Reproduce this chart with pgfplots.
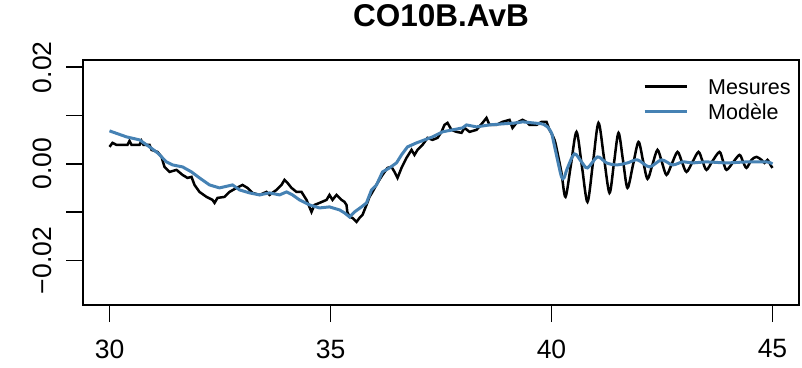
\documentclass[border=0pt]{standalone}
\usepackage{fontspec}
\setmainfont{Liberation Sans}
\usepackage{pgfplots}
\pgfplotsset{compat=1.18}
\definecolor{steel}{HTML}{4682B4}
\begin{document}
\begin{tikzpicture}
\begin{axis}[
  scale only axis, width=716pt, height=245pt,
  xmin=29.4, xmax=45.6, ymin=-0.0292, ymax=0.0215,
  axis line style={line width=1.7pt},
  xtick={30,35,40,45}, ytick={-0.02,-0.01,0,0.01,0.02},
  xticklabels={30,35,40,45}, yticklabels={−0.02,{},0.00,{},0.02},
  scaled ticks=false,
  xtick pos=lower, ytick pos=left,
  tick align=outside, major tick length=17pt,
  tick style={line width=1.7pt, black},
  ticklabel style={font=\fontsize{26.5}{30}\selectfont},
  xticklabel style={yshift=-14pt},
  yticklabel style={rotate=90, anchor=south},
  yticklabel shift=11pt,
  title={CO10B.AvB},
  title style={font=\fontsize{31.5}{36}\selectfont\bfseries, at={(0.5,1)}, anchor=base, yshift=27pt},
  legend style={draw=none, fill=none, at={(0.7821,0.925)}, anchor=north west, inner sep=0pt,
    font=\fontsize{21.5}{25.7}\selectfont,
    nodes={inner sep=0pt, text height=15.5pt, text depth=0pt},
    row sep=10pt,
    /tikz/every odd column/.append style={column sep=20pt}},
  legend cell align=left,
  legend image code/.code={\draw[#1] (0pt,0pt) -- (42pt,0pt);},
]
\addplot[black, line width=2.5pt] coordinates {
(30.000,0.00352) (30.068,0.00435) (30.158,0.00393) (30.407,0.00393) (30.452,0.00476) (30.498,0.00393)
(30.679,0.00393) (30.724,0.00476) (30.769,0.00393) (30.905,0.00393) (30.950,0.00290) (31.086,0.00248)
(31.176,0.00145) (31.244,-0.00062) (31.357,-0.00166) (31.516,-0.00124) (31.652,-0.00228) (31.765,-0.00290)
(31.855,-0.00269) (31.923,-0.00435) (32.036,-0.00580) (32.195,-0.00683) (32.330,-0.00745) (32.376,-0.00807)
(32.443,-0.00704) (32.602,-0.00683) (32.715,-0.00580) (32.873,-0.00497) (33.009,-0.00435) (33.122,-0.00497)
(33.235,-0.00600) (33.394,-0.00642) (33.552,-0.00580) (33.620,-0.00642) (33.778,-0.00538) (33.891,-0.00435)
(33.959,-0.00331) (34.027,-0.00393) (34.118,-0.00497) (34.231,-0.00580) (34.344,-0.00580) (34.457,-0.00745)
(34.570,-0.00994) (34.638,-0.00849) (34.751,-0.00807) (34.910,-0.00745) (34.977,-0.00642) (35.045,-0.00745)
(35.136,-0.00642) (35.249,-0.00745) (35.317,-0.00787) (35.362,-0.00849) (35.380,-0.00994) (35.430,-0.01097)
(35.498,-0.01118) (35.588,-0.01201) (35.656,-0.01118) (35.724,-0.01056) (35.814,-0.00849) (35.882,-0.00683)
(35.950,-0.00580) (36.063,-0.00393) (36.176,-0.00228) (36.290,-0.00083) (36.380,-0.00062) (36.448,-0.00166)
(36.516,-0.00290) (36.606,-0.00083) (36.719,0.00124) (36.833,0.00290) (36.900,0.00186) (36.968,0.00290)
(37.081,0.00393) (37.195,0.00538) (37.308,0.00497) (37.421,0.00538) (37.511,0.00663) (37.579,0.00807)
(37.647,0.00849) (37.738,0.00704) (37.851,0.00663) (37.964,0.00642) (38.032,0.00745) (38.145,0.00663)
(38.303,0.00704) (38.439,0.00849) (38.529,0.00952) (38.597,0.00807) (38.756,0.00807) (38.891,0.00870)
(39.050,0.00911) (39.118,0.00745) (39.208,0.00849) (39.344,0.00911) (39.434,0.00870) (39.502,0.00807)
(39.661,0.00807) (39.774,0.00870) (39.887,0.00870) (39.955,0.00704)
};
\addlegendentry{Mesures}
\addplot[steel, line width=3pt] coordinates {
(30.000,0.00683) (30.385,0.00559) (30.679,0.00497) (30.905,0.00352) (31.086,0.00228) (31.290,0.00041)
(31.425,-0.00021) (31.652,-0.00062) (31.855,-0.00166) (32.036,-0.00290) (32.262,-0.00435) (32.489,-0.00497)
(32.783,-0.00435) (32.941,-0.00538) (33.167,-0.00600) (33.394,-0.00642) (33.620,-0.00600) (33.846,-0.00642)
(34.005,-0.00580) (34.140,-0.00642) (34.299,-0.00745) (34.525,-0.00849) (34.751,-0.00911) (34.977,-0.00890)
(35.204,-0.00952) (35.317,-0.01014) (35.430,-0.01097) (35.543,-0.00994) (35.701,-0.00890) (35.814,-0.00807)
(35.928,-0.00538) (36.041,-0.00435) (36.176,-0.00166) (36.335,-0.00083) (36.493,0.00021) (36.606,0.00186)
(36.742,0.00352) (36.946,0.00435) (37.127,0.00497) (37.308,0.00559) (37.534,0.00663) (37.760,0.00704)
(37.986,0.00745) (38.077,0.00807) (38.303,0.00766) (38.597,0.00807) (38.891,0.00828) (39.208,0.00849)
(39.344,0.00870) (39.570,0.00849) (39.796,0.00828)
};
\addlegendentry{Modèle}
\addplot[black, line width=2.5pt, smooth, forget plot] coordinates {
(39.955,0.00704) (40.068,0.00497) (40.136,0.00228) (40.226,-0.00186) (40.317,-0.00683) (40.441,-0.0001)
(40.566,0.00663) (40.690,-0.00062) (40.814,-0.00787) (40.939,0.0003) (41.063,0.00849) (41.188,0.00124)
(41.312,-0.00600) (41.414,0.0002) (41.516,0.00642) (41.618,0.00072) (41.719,-0.00497) (41.844,-0.0002)
(41.968,0.00455) (42.070,0.0007) (42.172,-0.0031) (42.285,-0.0001) (42.398,0.0029) (42.500,0.0003)
(42.602,-0.00228) (42.726,0.0001) (42.851,0.00248) (42.952,0.0004) (43.054,-0.00166) (43.190,0.0004)
(43.326,0.00248) (43.416,0.0006) (43.507,-0.00124) (43.643,0.0006) (43.801,0.00248) (43.880,0.0006)
(43.959,-0.00124) (44.106,0.0003) (44.253,0.00186) (44.332,0.0005) (44.412,-0.00083) (44.525,0.00083)
(44.638,0.00145) (44.751,0.00083) (44.819,0.00021) (44.887,0.00083) (44.955,-0.00021) (45.000,-0.00083)
};
\addplot[steel, line width=3pt, smooth, forget plot] coordinates {
(39.796,0.00828) (39.910,0.00766) (40.000,0.00642) (40.023,0.00559) (40.136,0.00083) (40.226,-0.00269)
(40.283,-0.00290) (40.362,-0.00083) (40.520,0.00207) (40.679,0.00041) (40.814,-0.00083) (41.041,0.00145)
(41.244,0.00021) (41.471,-0.00021) (41.719,0.00021) (41.946,0.00083) (42.217,-0.00062) (42.489,0.00083)
(42.738,-0.00021) (42.964,0.00041) (43.190,0.00021) (43.507,0.00041) (43.959,0.00021) (44.412,0.00041)
(44.864,0.00041) (45.000,0.00000)
};
\end{axis}
\pgfresetboundingbox
\path[use as bounding box] (-83pt,-62pt) rectangle (719pt,305pt);
\end{tikzpicture}
\end{document}
